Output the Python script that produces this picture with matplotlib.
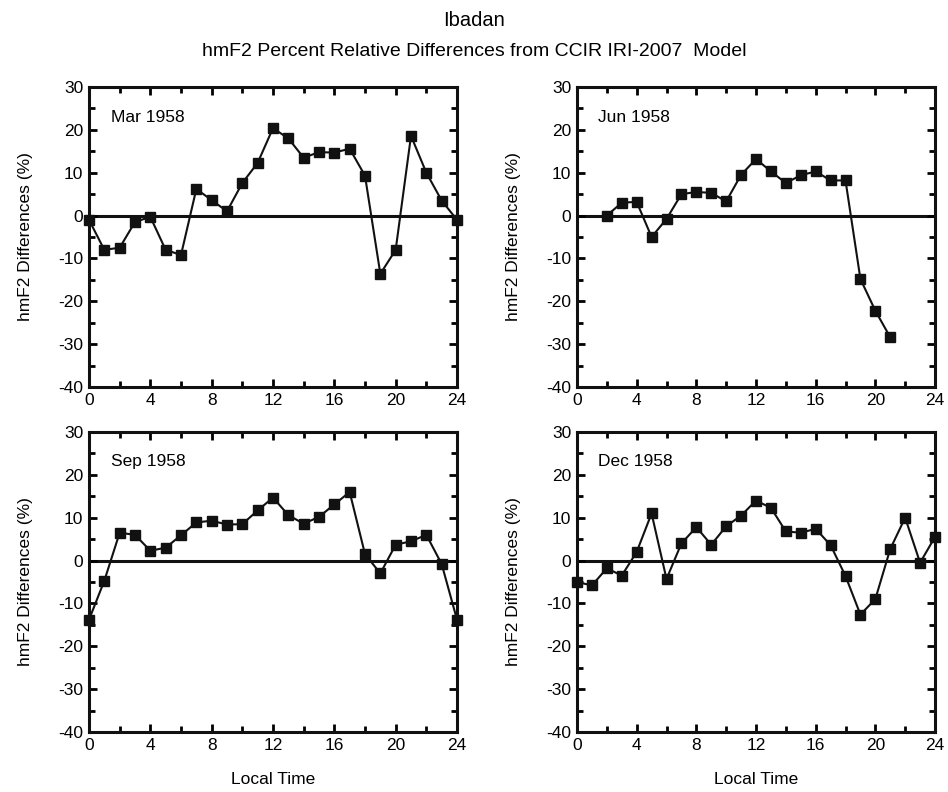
import numpy as np
from matplotlib import pyplot as plt
from matplotlib.ticker import MultipleLocator

plt.rcParams['font.family'] = ['Liberation Sans', 'DejaVu Sans']
plt.rcParams['axes.unicode_minus'] = False

hours_full = list(range(0, 25))
hours_jun = list(range(2, 22))

mar_vals = [-1, -8, -7.5, -1.5, -0.3, -8, -9.2, 6.2, 3.6, 1, 7.6, 12.3, 20.4,
            18, 13.5, 14.8, 14.7, 15.6, 9.3, -13.6, -8, 18.6, 10, 3.5, -1]
jun_vals = [0, 3, 3.2, -5, -0.8, 5, 5.5, 5.3, 3.3, 9.5, 13.2, 10.3, 7.6, 9.4,
            10.3, 8.2, 8.2, -14.8, -22.2, -28.4]
sep_vals = [-13.8, -4.7, 6.5, 6, 2.3, 3, 5.9, 8.9, 9.3, 8.4, 8.5, 11.7, 14.7,
            10.6, 8.6, 10.2, 13.1, 16, 1.5, -3, 3.7, 4.5, 6, -0.8, -13.8]
dec_vals = [-5, -5.8, -1.8, -3.5, 2, 11, -4.3, 4, 7.8, 3.7, 8, 10.5, 14, 12.3,
            6.8, 6.5, 7.4, 3.6, -3.6, -12.6, -9, 2.7, 10, -0.5, 5.5]

panels = [
    ('Mar 1958', hours_full, mar_vals),
    ('Jun 1958', hours_jun, jun_vals),
    ('Sep 1958', hours_full, sep_vals),
    ('Dec 1958', hours_full, dec_vals),
]

W, H = 948, 792
# axes boxes in pixels: left, top, right, bottom
boxes = [(89, 87, 457, 387), (577, 87, 935, 387),
         (89, 432, 457, 732), (577, 432, 935, 732)]

fig = plt.figure(figsize=(W / 100, H / 100), dpi=100)

for i, (label, x, y) in enumerate(panels):
    l, t, r, b = boxes[i]
    ax = fig.add_axes([l / W, 1 - b / H, (r - l) / W, (b - t) / H])
    ax.axhline(0, color='#111111', lw=2.2, zorder=1)
    ax.plot(x, y, color='#111111', lw=1.5, marker='s', ms=7.5,
            mec='#111111', mfc='#111111', clip_on=False, zorder=3)
    ax.set_xlim(0, 24)
    ax.set_ylim(-40, 30)
    ax.xaxis.set_major_locator(MultipleLocator(4))
    ax.xaxis.set_minor_locator(MultipleLocator(2))
    ax.yaxis.set_major_locator(MultipleLocator(10))
    ax.yaxis.set_minor_locator(MultipleLocator(5))
    ax.tick_params(which='both', direction='in', top=True, right=True,
                   labelsize=12.5, width=2, pad=4)
    ax.tick_params(which='major', length=6)
    ax.tick_params(which='minor', length=4)
    for s in ax.spines.values():
        s.set_linewidth(2.2)
        s.set_color('#111111')
    ax.text(0.06, 0.9, label, transform=ax.transAxes, fontsize=12.5,
            ha='left', va='center')
    ax.set_ylabel('hmF2 Differences (%)', fontsize=12.5, labelpad=18)
    if i >= 2:
        ax.set_xlabel('Local Time', fontsize=12.5, labelpad=14)

fig.text(0.5, 1 - 20 / H, 'Ibadan', ha='center', va='center', fontsize=14.5)
fig.text(0.5, 1 - 52 / H,
         'hmF2 Percent Relative Differences from CCIR IRI-2007  Model',
         ha='center', va='center', fontsize=14)

fig.savefig('out.png', dpi=100)
